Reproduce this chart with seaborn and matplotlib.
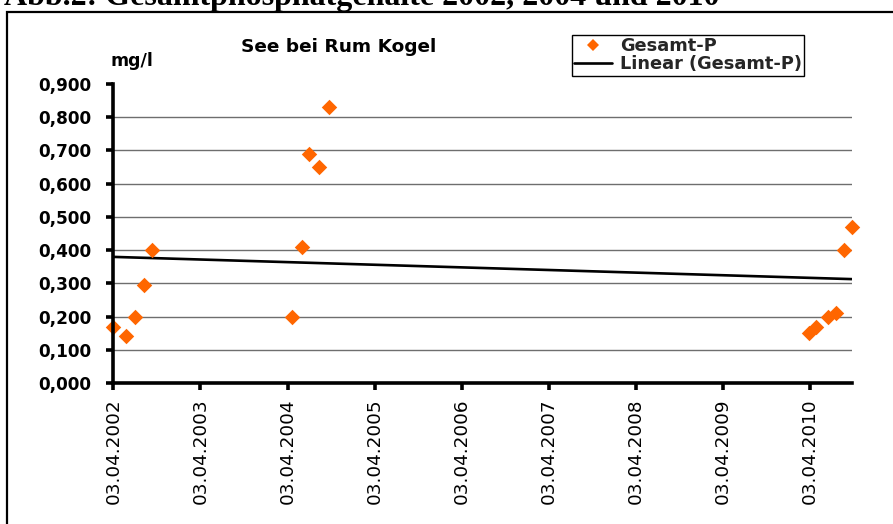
import matplotlib
matplotlib.use("Agg")
import matplotlib.pyplot as plt
import matplotlib.dates as mdates
from matplotlib.patches import Rectangle
from matplotlib.lines import Line2D
import seaborn as sns
import pandas as pd

# Total phosphorus measurements, lake near Rum Kogel
dates = [
    "2002-04-03", "2002-05-25", "2002-07-03", "2002-08-11", "2002-09-11",
    "2004-04-23", "2004-06-03", "2004-07-02", "2004-08-13", "2004-09-24",
    "2010-03-31", "2010-04-29", "2010-06-19", "2010-07-22", "2010-08-25", "2010-09-26",
]
gesamt_p = [
    0.17, 0.14, 0.20, 0.295, 0.40,
    0.20, 0.41, 0.69, 0.65, 0.83,
    0.15, 0.17, 0.20, 0.21, 0.40, 0.47,
]
tick_dates = ["2002-04-03", "2003-04-03", "2004-04-03", "2005-04-03", "2006-04-03",
              "2007-04-03", "2008-04-03", "2009-04-03", "2010-04-03"]
y_ticks = [0.0, 0.1, 0.2, 0.3, 0.4, 0.5, 0.6, 0.7, 0.8, 0.9]

sns.set_theme(style="white")
plt.rcParams["font.family"] = ["DejaVu Sans"]

df = pd.DataFrame({"datum": pd.to_datetime(dates), "p": gesamt_p})
df["x"] = mdates.date2num(df["datum"])

W, H = 893, 524
fig = plt.figure(figsize=(W / 100, H / 100), dpi=100)
fig.patch.set_facecolor("white")

ax_l, ax_r, ax_t, ax_b = 113.3, 851.7, 84, 383
ax = fig.add_axes([ax_l / W, 1 - ax_b / H, (ax_r - ax_l) / W, (ax_b - ax_t) / H])
ax.set_facecolor("white")

orange = "#FF6600"

# horizontal gridlines
for v in y_ticks[1:-1]:
    ax.axhline(v, color="#6e6e6e", lw=1.0, zorder=0)

# linear trend over all measurements
sns.regplot(data=df, x="x", y="p", scatter=False, ci=None, ax=ax,
            color="black", line_kws=dict(lw=1.9, zorder=2))

sns.scatterplot(data=df, x="x", y="p", marker="D", s=62, color=orange,
                linewidth=0, ax=ax, zorder=3, clip_on=False)

ax.set_xlim(df["x"].min(), df["x"].max())
ax.set_ylim(0, 0.9)

tick_x = mdates.date2num(pd.to_datetime(tick_dates))
ax.set_xticks(tick_x)
ax.set_xticklabels([pd.Timestamp(d).strftime("%d.%m.%Y") for d in tick_dates],
                   rotation=90, fontsize=13.2, color="black")
ax.set_yticks(y_ticks)
ax.set_yticklabels([f"{v:.3f}".replace(".", ",") for v in y_ticks],
                   fontsize=12.2, fontweight="bold", color="black")
ax.set_xlabel("")
ax.set_ylabel("")

for side in ["top", "right"]:
    ax.spines[side].set_visible(False)
for side in ["left", "bottom"]:
    ax.spines[side].set_visible(True)
    ax.spines[side].set_color("black")
    ax.spines[side].set_linewidth(2.6)
    ax.spines[side].set_zorder(4)
ax.tick_params(axis="both", which="major", direction="out", length=5, width=2.6,
               color="black", left=True, bottom=True)
ax.tick_params(axis="y", pad=11)
ax.tick_params(axis="x", pad=6)

# chart text
fig.text(339 / W, 1 - 47 / H, "See bei Rum Kogel", ha="center", va="center",
         fontsize=13.3, fontweight="bold", color="black")
fig.text(110 / W, 1 - 61 / H, "mg/l", ha="left", va="center",
         fontsize=12.5, fontweight="bold", color="black")

# legend
handles = [
    Line2D([], [], marker="D", color=orange, linestyle="none", markersize=6.5,
           markeredgewidth=0),
    Line2D([], [], color="black", lw=1.9),
]
leg = fig.legend(handles, ["Gesamt-P", "Linear (Gesamt-P)"],
                 loc="upper left", bbox_to_anchor=(572 / W, 1 - 35 / H),
                 frameon=True, fancybox=False, framealpha=1, edgecolor="black",
                 prop=dict(size=12.8, weight="bold"), handlelength=2.1,
                 handletextpad=0.45, borderpad=0.14, labelspacing=0.0,
                 borderaxespad=0)
leg.get_frame().set_linewidth(1.0)

# outer chart frame
fig.patches.append(Rectangle((7 / W, -0.1), 1.2, 1.1 - 12 / H,
                             transform=fig.transFigure, fill=False,
                             edgecolor="black", lw=1.6, zorder=10))

# document caption above the chart
fig.text(4 / W, 1 - 5 / H, "Abb.2: Gesamtphosphatgehalte 2002, 2004 und 2010",
         ha="left", va="baseline", fontsize=23, fontweight="bold",
         family=["Liberation Serif", "DejaVu Serif"], color="black")

fig.savefig("out.png", dpi=100, facecolor="white")
